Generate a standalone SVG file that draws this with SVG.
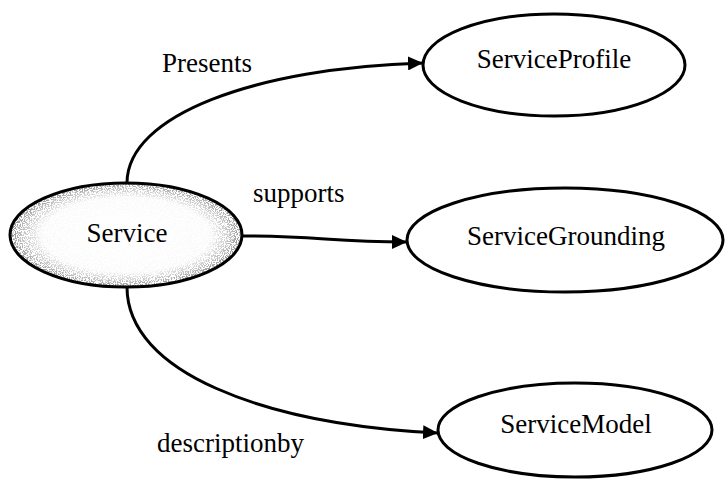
<svg xmlns="http://www.w3.org/2000/svg" width="725" height="482" viewBox="0 0 725 482">
  <style>
    .node { fill: #ffffff; stroke: #000000; stroke-width: 3; }
    .label { font-family: "Liberation Serif", "Times New Roman", serif; font-size: 27px; fill: #000000; }
    .edge { fill: none; stroke: #000000; stroke-width: 3; marker-end: url(#arrow); }
  </style>
  <defs>
    <marker id="arrow" markerUnits="userSpaceOnUse" markerWidth="16" markerHeight="14" refX="15" refY="7" orient="auto">
      <path d="M0,0 L15,7 L0,14 z" fill="#000000"/>
    </marker>
    <!-- faint grey tone that thickens towards the rim -->
    <radialGradient id="rim" cx="0.5" cy="0.5" r="0.5">
      <stop offset="0" stop-color="#000000" stop-opacity="0"/>
      <stop offset="0.72" stop-color="#000000" stop-opacity="0.05"/>
      <stop offset="0.9" stop-color="#000000" stop-opacity="0.55"/>
      <stop offset="1" stop-color="#000000" stop-opacity="1"/>
    </radialGradient>
    <!-- speckled stipple: noise thresholded into dots, masked by the rim tone -->
    <filter id="stipple" x="0" y="0" width="1" height="1">
      <feTurbulence type="fractalNoise" baseFrequency="0.85" numOctaves="2" seed="7" result="noise"/>
      <feColorMatrix in="noise" type="matrix" values="0 0 0 0 0.25  0 0 0 0 0.25  0 0 0 0 0.25  0 0 0 10 -4.6" result="dots"/>
      <feComposite in="dots" in2="SourceGraphic" operator="in"/>
    </filter>
  </defs>

  <g id="connectors">
    <path id="edge-presents" class="edge" d="M127,183 C127,115 255,68 423,63"/>
    <path id="edge-supports" class="edge" d="M242,236 C320,236 330,242 407,242"/>
    <path id="edge-descriptionby" class="edge" d="M127,287 C127,372 262,424 438,433"/>
    <text class="label" x="162" y="72">Presents</text>
    <text class="label" x="253" y="202">supports</text>
    <text class="label" x="157" y="452">descriptionby</text>
  </g>

  <g id="node-service">
    <ellipse cx="126" cy="235" rx="116" ry="52" fill="#ffffff"/>
    <ellipse cx="126" cy="235" rx="116" ry="52" fill="url(#rim)" filter="url(#stipple)"/>
    <ellipse cx="126" cy="235" rx="116" ry="52" fill="none" stroke="#000000" stroke-width="3"/>
    <text class="label" x="127" y="242" text-anchor="middle">Service</text>
  </g>
  <g id="node-serviceprofile">
    <ellipse class="node" cx="554" cy="65" rx="131" ry="51"/>
    <text class="label" x="554" y="68" text-anchor="middle">ServiceProfile</text>
  </g>
  <g id="node-servicegrounding">
    <ellipse class="node" cx="565" cy="240" rx="158" ry="52"/>
    <text class="label" x="566" y="245" text-anchor="middle">ServiceGrounding</text>
  </g>
  <g id="node-servicemodel">
    <ellipse class="node" cx="575" cy="430" rx="137" ry="47"/>
    <text class="label" x="576" y="433" text-anchor="middle">ServiceModel</text>
  </g>
</svg>
